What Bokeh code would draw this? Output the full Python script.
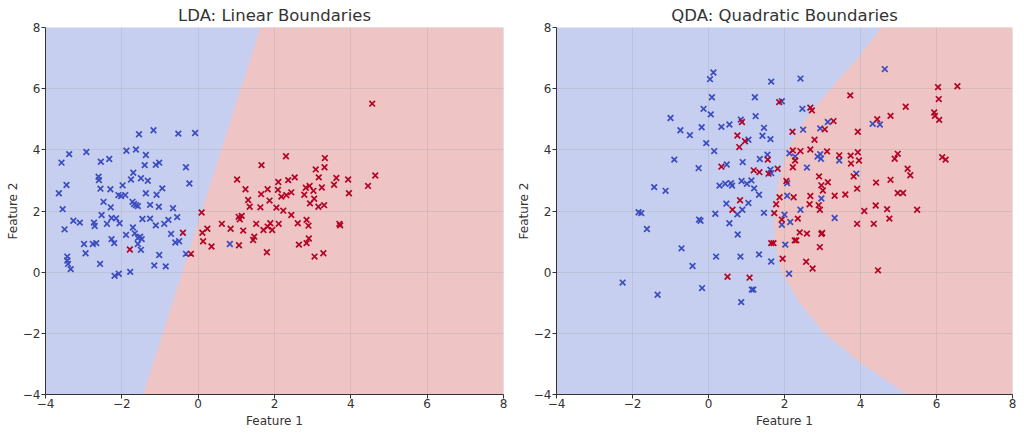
from bokeh.plotting import figure
from bokeh.layouts import row
from bokeh.models import Range1d, FixedTicker
from bokeh.embed import file_html
from bokeh.resources import INLINE

# ---------------- data ----------------
x_ticks = [-4, -2, 0, 2, 4, 6, 8]
x_tick_labels = ["\u22124", "\u22122", "0", "2", "4", "6", "8"]
y_ticks = [-4, -2, 0, 2, 4, 6, 8]
y_tick_labels = ["\u22124", "\u22122", "0", "2", "4", "6", "8"]

# LDA decision boundary (feature 1 value at given feature 2 values)
lda_boundary_y = [-4, 8]
lda_boundary_x = [-1.44, 1.63]

# QDA decision boundary (feature 1 value at given feature 2 values)
qda_boundary_y = [-4, -3, -2, -1, 0, 1, 2, 3, 4, 5, 6, 7, 8]
qda_boundary_x = [5.23, 4.05, 3.05, 2.40, 1.92, 1.74, 1.72, 1.85, 2.08, 2.55, 3.21, 3.93, 4.55]

# LDA panel: class 0 (blue)
lda_blue_x = [-1.55, -1.17, -0.52, -0.08, -3.38, -2.93, -3.58, -2.55, -2.33, -1.88,
              -1.63, -1.37, -1.40, -1.11, -1.02, -0.32, -1.70, -2.61, -2.60, -1.76,
              -1.50, -1.32, -3.45, -3.65, -2.56, -2.30, -1.98, -2.02, -2.09, -1.91,
              -1.37, -1.09, -0.94, -0.23, -2.48, -2.29, -1.72, -1.63, -1.68, -1.58,
              -1.26, -1.03, -0.66, -3.55, -3.27, -3.10, -2.73, -2.71, -2.53, -2.39,
              -2.27, -2.15, -2.06, -1.46, -1.26, -1.11, -0.89, -0.78, -0.55, -3.50,
              -2.99, -2.76, -2.67, -2.95, -2.27, -2.20, -1.89, -1.71, -1.66, -1.58,
              -1.52, -1.48, -1.58, -1.50, -0.71, -0.60, -0.50, -0.32, -1.02, -3.43,
              -3.43, -3.41, -3.34, -2.57, -2.19, -2.08, -1.78, -1.15, -0.85, 0.83]
lda_blue_y = [4.51, 4.64, 4.53, 4.55, 3.86, 3.93, 3.58, 3.61, 3.70, 3.97,
              4.01, 3.83, 3.50, 3.51, 3.58, 3.43, 3.25, 3.12, 3.01, 3.03,
              3.07, 2.99, 2.85, 2.58, 2.73, 2.71, 2.84, 2.49, 2.52, 2.52,
              2.58, 2.53, 2.74, 2.90, 2.30, 2.12, 2.30, 2.19, 2.23, 2.16,
              2.20, 2.14, 2.09, 2.06, 1.68, 1.62, 1.62, 1.51, 1.87, 1.58,
              1.77, 1.76, 1.60, 1.74, 1.75, 1.53, 1.58, 1.71, 1.80, 1.40,
              0.92, 0.92, 0.95, 0.62, 1.08, 0.95, 1.22, 1.46, 1.27, 1.12,
              1.16, 1.08, 0.92, 0.73, 1.25, 0.97, 1.01, 0.60, 0.56, 0.51,
              0.38, 0.27, 0.10, 0.27, -0.12, -0.05, 0.01, 0.22, 0.19, 0.92]

# LDA panel: class 1 (red)
lda_red_x = [4.56, 2.30, 1.66, 3.32, 3.08, 3.31, 1.02, 2.10, 2.36, 2.53,
             3.16, 3.62, 3.93, 4.64, 4.45, 3.95, 3.56, 1.24, 1.82, 1.65,
             2.09, 2.18, 2.31, 2.44, 2.82, 2.92, 3.02, 3.24, 2.78, 3.04,
             2.93, 3.15, 3.30, 1.31, 1.35, 1.63, 1.87, 2.05, 2.23, 2.44,
             2.61, 2.84, 2.89, 3.70, 3.72, 1.06, 1.09, 1.14, 0.62, 0.85,
             1.18, 1.52, 1.71, 1.82, 1.89, 1.94, 2.11, 1.47, 1.44, 0.09,
             0.24, 0.11, 0.13, 0.35, -0.40, -0.19, 1.07, 1.80, 2.64, 2.84,
             2.90, 3.05, 3.28, -1.79]
lda_red_y = [5.51, 3.79, 3.50, 3.73, 3.36, 3.43, 3.03, 2.95, 3.01, 3.10,
             3.10, 3.08, 3.03, 3.16, 2.82, 2.58, 2.86, 2.71, 2.71, 2.55,
             2.69, 2.47, 2.52, 2.61, 2.76, 2.82, 2.66, 2.77, 2.53, 2.40,
             2.25, 2.14, 2.19, 2.36, 2.14, 2.12, 2.34, 2.11, 2.01, 1.87,
             1.60, 1.71, 1.52, 1.58, 1.53, 1.81, 1.73, 1.84, 1.58, 1.42,
             1.36, 1.58, 1.38, 1.49, 1.60, 1.38, 1.58, 1.16, 1.05, 1.95,
             1.42, 1.29, 1.01, 0.84, 1.29, 0.60, 0.88, 0.65, 0.90, 0.95,
             1.10, 0.51, 0.62, 0.74]

# QDA panel: class 0 (blue)
qda_blue_x = [0.13, 0.04, 1.65, 0.09, 1.22, -0.13, 0.06, -1.00, 1.24, 0.85,
              -0.74, -0.49, -0.18, 0.34, 0.55, 1.46, 1.42, 1.63, 1.05, -0.06,
              0.15, -0.90, -0.26, 0.48, 0.90, 1.35, 1.55, 1.63, 0.29, 0.44,
              0.59, 0.62, 0.87, 1.01, 1.13, 1.20, 1.33, -1.43, -1.13, 0.47,
              0.89, 0.76, 1.05, 1.46, -1.84, -1.77, -1.62, -0.25, -0.21, 0.18,
              0.55, 0.77, -0.71, -0.42, 0.20, 0.84, 1.33, 1.65, -2.26, -1.34,
              -0.17, 1.14, 1.18, 0.86, 4.64, 2.42, 1.93, 2.47, 2.49, 2.94,
              3.14, 4.32, 4.51, 2.13, 2.28, 2.87, 2.94, 2.96, 3.44, 2.59,
              1.65, 2.07, 3.89, 2.07, 2.97, 2.42, 2.00, 2.15, 1.93, 3.32,
              2.02, 2.12]
qda_blue_y = [6.53, 6.31, 6.23, 5.72, 5.72, 5.34, 5.16, 5.04, 5.10, 4.99,
              4.64, 4.48, 4.74, 4.75, 4.83, 4.72, 4.46, 4.35, 4.33, 4.22,
              3.96, 3.68, 3.40, 3.52, 3.60, 3.70, 3.84, 3.35, 2.83, 2.89,
              2.91, 2.83, 2.98, 2.89, 3.00, 2.74, 2.53, 2.78, 2.66, 2.24,
              2.04, 1.89, 2.26, 1.94, 1.96, 1.93, 1.41, 1.72, 1.68, 1.91,
              1.60, 1.23, 0.78, 0.20, 0.51, 0.51, 0.58, 0.35, -0.34, -0.74,
              -0.52, -0.57, -0.57, -0.98, 6.64, 6.33, 5.59, 5.34, 4.66, 4.70,
              4.91, 4.85, 4.83, 3.89, 3.78, 3.78, 3.86, 3.71, 3.65, 3.42,
              3.24, 2.91, 3.22, 2.50, 2.41, 2.04, 1.88, 1.64, 1.55, 1.77,
              0.90, -0.05]

# QDA panel: class 1 (red)
qda_red_x = [0.88, 0.76, 0.81, 0.96, 0.34, 1.19, 1.34, 1.56, 1.58, 0.83,
             0.63, 1.73, 1.65, 0.50, 1.08, 1.86, 6.55, 6.04, 6.06, 3.73,
             5.19, 5.94, 5.96, 6.07, 4.79, 4.44, 2.68, 2.72, 3.29, 3.06,
             2.21, 3.93, 2.79, 2.22, 2.42, 2.68, 3.12, 3.44, 3.74, 3.93,
             3.96, 3.75, 4.90, 4.98, 6.15, 6.24, 5.24, 5.31, 4.79, 4.41,
             3.82, 3.91, 2.91, 3.14, 2.97, 3.01, 3.32, 3.60, 4.98, 5.12,
             2.68, 2.24, 1.87, 2.05, 1.82, 2.22, 2.28, 4.40, 4.70, 4.76,
             5.49, 4.10, 3.91, 4.35, 2.66, 2.90, 2.93, 1.78, 2.35, 1.93,
             2.40, 2.59, 2.97, 2.99, 2.27, 2.31, 1.71, 2.93, 1.95, 2.57,
             2.74, 4.46]
qda_red_y = [4.91, 4.47, 4.09, 4.28, 3.45, 3.33, 3.27, 3.68, 3.22, 2.35,
             2.04, 1.93, 0.95, -0.15, -0.18, 5.56, 6.08, 6.05, 5.66, 5.78,
             5.41, 5.22, 5.11, 4.98, 5.11, 5.00, 5.38, 5.29, 4.94, 4.67,
             4.59, 4.59, 4.33, 3.98, 3.96, 4.01, 3.95, 3.82, 3.81, 3.92,
             3.65, 3.55, 3.71, 3.87, 3.76, 3.68, 3.38, 3.17, 3.02, 2.93,
             3.13, 2.73, 3.13, 2.94, 2.84, 2.67, 2.50, 2.54, 2.59, 2.59,
             2.49, 2.45, 2.45, 2.98, 3.38, 3.43, 3.65, 2.18, 2.06, 1.75,
             2.04, 2.00, 1.58, 1.58, 2.22, 2.19, 2.04, 2.22, 1.75, 1.72,
             1.30, 1.26, 1.25, 1.28, 1.04, 1.04, 0.95, 0.82, 0.44, 0.34,
             0.12, 0.06]

# ---------------- styling ----------------
BLUE_BG = "#c6cff0"
RED_BG = "#efc4c4"
BLUE_PT = "#3b4cc0"
RED_PT = "#b40426"
TEXT = "#333333"
FONT = "DejaVu Sans"
H = 432


def make_panel(title, bx, by, bxs, bys, rxs, rys, width, border_left, border_right):
    p = figure(width=width, height=H,
               x_range=Range1d(-4, 8), y_range=Range1d(-4, 8),
               output_backend="svg", toolbar_location=None,
               min_border_left=border_left, min_border_right=border_right,
               min_border_top=27, min_border_bottom=38)
    p.background_fill_color = BLUE_BG
    p.border_fill_color = "white"
    p.outline_line_color = None

    # decision regions
    p.harea(y=by, x1=bx, x2=8, fill_color=RED_BG, level="image")

    # points
    p.scatter(bxs, bys, marker="x", size=8, line_color=BLUE_PT, line_width=1.7)
    p.scatter(rxs, rys, marker="x", size=8, line_color=RED_PT, line_width=1.7)

    # title
    p.title.text = title
    p.title.align = "center"
    p.title.text_font = FONT
    p.title.text_font_size = "16.5px"
    p.title.text_font_style = "normal"
    p.title.text_color = TEXT
    p.title.standoff = 6

    # axes
    p.xaxis.ticker = FixedTicker(ticks=x_ticks)
    p.yaxis.ticker = FixedTicker(ticks=y_ticks)
    p.xaxis.major_label_overrides = dict(zip(x_ticks, x_tick_labels))
    p.yaxis.major_label_overrides = dict(zip(y_ticks, y_tick_labels))
    p.xaxis.axis_label = "Feature 1"
    p.yaxis.axis_label = "Feature 2"
    for ax in (p.xaxis, p.yaxis):
        ax.axis_label_text_font = FONT
        ax.axis_label_text_font_size = "12px"
        ax.axis_label_text_font_style = "normal"
        ax.axis_label_text_color = TEXT
        ax.major_label_text_font = FONT
        ax.major_label_text_font_size = "12px"
        ax.major_label_text_color = TEXT
        ax.axis_line_color = TEXT
        ax.major_tick_line_color = TEXT
        ax.major_tick_out = 4
        ax.major_tick_in = 0
        ax.minor_tick_line_color = None
    p.xaxis.axis_label_standoff = 3
    p.xaxis.major_label_standoff = 0
    p.yaxis.axis_label_standoff = 0
    p.yaxis.major_label_standoff = 1

    # grid
    p.xgrid.ticker = FixedTicker(ticks=x_ticks)
    p.ygrid.ticker = FixedTicker(ticks=y_ticks)
    for g in (p.xgrid, p.ygrid):
        g.grid_line_color = "#a8a8b0"
        g.grid_line_alpha = 0.35
        g.grid_line_width = 1
    return p


p1 = make_panel("LDA: Linear Boundaries", lda_boundary_x, lda_boundary_y,
                lda_blue_x, lda_blue_y, lda_red_x, lda_red_y,
                width=510, border_left=45, border_right=7)
p2 = make_panel("QDA: Quadratic Boundaries", qda_boundary_x, qda_boundary_y,
                qda_blue_x, qda_blue_y, qda_red_x, qda_red_y,
                width=510, border_left=46, border_right=8)

layout = row(p1, p2)
open("out.html", "w").write(file_html(layout, INLINE, title="LDA vs QDA"))
